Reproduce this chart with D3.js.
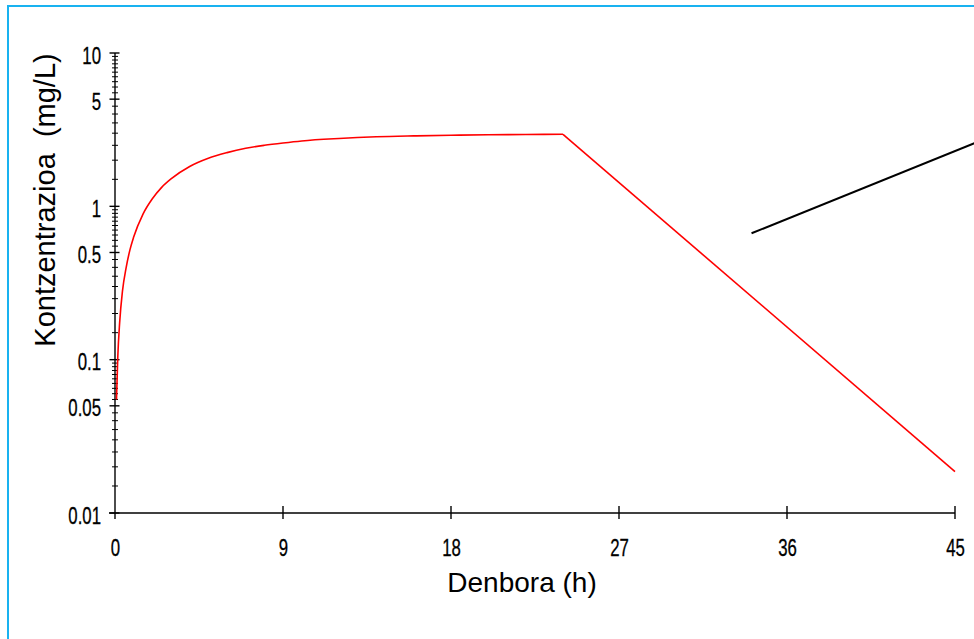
<!DOCTYPE html>
<html>
<head>
<meta charset="utf-8">
<script src="https://cdn.jsdelivr.net/npm/d3@7"></script>
<style>
    body { margin: 0; background: #fff; }
    svg { display: block; }
    .tick-label { font-family: "Liberation Sans", Arial, sans-serif; font-size: 23px; fill: #000; stroke: #000; stroke-width: 0.3px; }
    .axis-title { font-family: "Liberation Sans", Arial, sans-serif; fill: #000; white-space: pre; }
</style>
</head>
<body>
<svg id="chart"></svg>
<script>
// Values
const xTicks = [0, 9, 18, 27, 36, 45];
const yTicks = [0.01, 0.05, 0.1, 0.5, 1, 5, 10];
const yDecades = [0.01, 0.1, 1];
const yMinorSteps = [1.5, 2, 2.5, 3, 3.5, 4, 4.5, 5.5, 6, 6.5, 7, 7.5, 8, 8.5, 9, 9.5];

// concentration during infusion (time h, mg/L)
const riseTime = [0.08, 0.15, 0.25, 0.4, 0.6, 0.8, 1, 1.5, 2, 2.5, 3, 4, 5, 6, 7, 8, 9, 10, 12, 14, 16, 18, 20, 22, 24];
const riseConc = [0.055, 0.105, 0.175, 0.28, 0.40, 0.52, 0.63, 0.89, 1.12, 1.33, 1.51, 1.82, 2.06, 2.24, 2.39, 2.50, 2.59, 2.67, 2.77, 2.84, 2.88, 2.91, 2.93, 2.94, 2.95];

// elimination after infusion stops
const decayTime = [24, 45];
const decayConc = [2.95, 0.0186];

// black straight segment
const lineTime = [34.1, 46.5];
const lineConc = [0.667, 2.72];

function createChart() {
    const width = 974;
    const height = 639;
    const margin = { top: 53, right: 19, bottom: 126, left: 115 };
    const squeeze = 0.73; // tick labels are a narrow face

    const svg = d3.select("#chart")
        .attr("width", width)
        .attr("height", height);

    // frame (only top and left show inside the window)
    svg.append("rect")
        .attr("x", 8)
        .attr("y", 6)
        .attr("width", 990)
        .attr("height", 660)
        .attr("fill", "none")
        .attr("stroke", "#19b2f0")
        .attr("stroke-width", 2);

    const xScale = d3.scaleLinear()
        .domain([0, 45])
        .range([margin.left, width - margin.right]);

    const yScale = d3.scaleLog()
        .domain([0.01, 10])
        .range([height - margin.bottom, margin.top]);

    const x0 = xScale(0);
    const y0 = yScale(0.01);

    // y axis
    const yAxis = d3.axisLeft(yScale)
        .tickValues(yTicks)
        .tickSize(0)
        .tickPadding(0)
        .tickFormat(d => String(d));

    const gy = svg.append("g")
        .attr("transform", `translate(${x0}, 0)`)
        .call(yAxis);
    gy.select(".domain").remove();
    gy.attr("font-size", null).attr("font-family", null);
    gy.selectAll("text")
        .attr("class", "tick-label")
        .attr("x", 0)
        .attr("y", 0)
        .attr("dy", null)
        .attr("text-anchor", "end")
        .attr("transform", `translate(-14, 10) scale(${squeeze}, 1)`);

    svg.append("line")
        .attr("x1", x0).attr("x2", x0)
        .attr("y1", yScale(10)).attr("y2", y0 + 6)
        .attr("stroke", "#000").attr("stroke-width", 1.4);

    // minor ticks
    const minor = [];
    yDecades.forEach(d => yMinorSteps.forEach(s => minor.push(d * s)));
    svg.selectAll(".minor-tick")
        .data(minor)
        .enter()
        .append("line")
        .attr("class", "minor-tick")
        .attr("x1", x0 - 3).attr("x2", x0 + 3)
        .attr("y1", d => yScale(d)).attr("y2", d => yScale(d))
        .attr("stroke", "#000").attr("stroke-width", 1);

    svg.selectAll(".major-tick")
        .data(yTicks)
        .enter()
        .append("line")
        .attr("class", "major-tick")
        .attr("x1", x0 - 5.5).attr("x2", x0 + 4.5)
        .attr("y1", d => yScale(d)).attr("y2", d => yScale(d))
        .attr("stroke", "#000").attr("stroke-width", 1.4);

    // x axis
    const xAxis = d3.axisBottom(xScale)
        .tickValues(xTicks)
        .tickSize(0)
        .tickPadding(0)
        .tickFormat(d => String(d));

    const gx = svg.append("g")
        .attr("transform", `translate(0, ${y0})`)
        .call(xAxis);
    gx.select(".domain").remove();
    gx.attr("font-size", null).attr("font-family", null);
    gx.selectAll("text")
        .attr("class", "tick-label")
        .attr("y", 0)
        .attr("dy", null)
        .attr("transform", `translate(0, 43) scale(${squeeze}, 1)`);

    svg.append("line")
        .attr("x1", x0 - 6).attr("x2", xScale(45))
        .attr("y1", y0).attr("y2", y0)
        .attr("stroke", "#000").attr("stroke-width", 1.4);

    svg.selectAll(".x-tick")
        .data(xTicks.slice(1))
        .enter()
        .append("line")
        .attr("class", "x-tick")
        .attr("x1", d => xScale(d)).attr("x2", d => xScale(d))
        .attr("y1", y0 - 7).attr("y2", y0 + 6)
        .attr("stroke", "#000").attr("stroke-width", 1.4);

    // red concentration curve
    const riseData = riseTime.map((t, i) => ({ t: t, c: riseConc[i] }));
    const decayData = decayTime.map((t, i) => ({ t: t, c: decayConc[i] }));

    const smooth = d3.line()
        .x(d => xScale(d.t))
        .y(d => yScale(d.c))
        .curve(d3.curveMonotoneX);
    const straight = d3.line()
        .x(d => xScale(d.t))
        .y(d => yScale(d.c));

    svg.append("path")
        .datum(riseData)
        .attr("d", smooth)
        .attr("fill", "none")
        .attr("stroke", "#ff0000")
        .attr("stroke-width", 1.6);

    svg.append("path")
        .datum(decayData)
        .attr("d", straight)
        .attr("fill", "none")
        .attr("stroke", "#ff0000")
        .attr("stroke-width", 1.6);

    // black segment
    const segData = lineTime.map((t, i) => ({ t: t, c: lineConc[i] }));
    svg.append("path")
        .datum(segData)
        .attr("d", straight)
        .attr("fill", "none")
        .attr("stroke", "#000")
        .attr("stroke-width", 2);

    // axis titles
    svg.append("text")
        .attr("class", "axis-title")
        .attr("x", 522)
        .attr("y", 592)
        .attr("text-anchor", "middle")
        .style("font-size", "28px")
        .text("Denbora (h)");

    svg.append("text")
        .attr("class", "axis-title")
        .attr("transform", "translate(55, 200) rotate(-90)")
        .attr("text-anchor", "middle")
        .style("font-size", "29px")
        .text("Kontzentrazioa  (mg/L)");
}

createChart();
</script>
</body>
</html>
